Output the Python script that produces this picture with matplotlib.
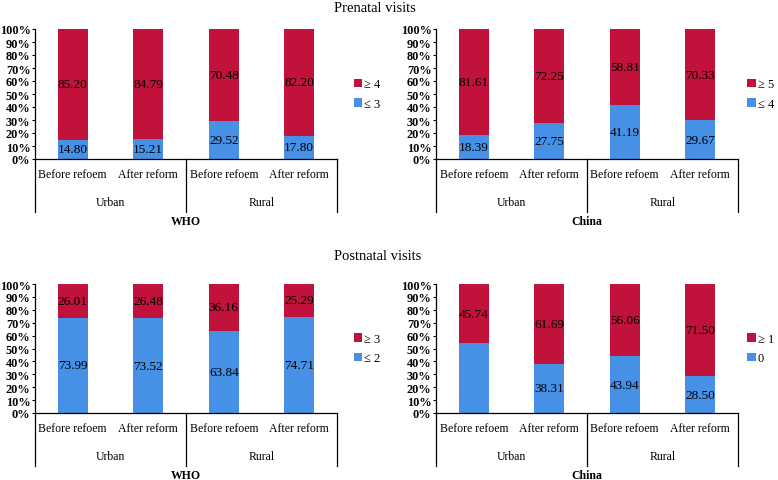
import numpy as np
import matplotlib
matplotlib.use("Agg")
import matplotlib.pyplot as plt

plt.rcParams['font.family'] = ['Liberation Serif', 'DejaVu Serif']

RED = '#C1123C'
BLUE = '#4690E6'

sub_labels = ['Before refoem', 'After reform', 'Before refoem', 'After reform']
groups = ['Urban', 'Rural']

# prenatal visits
pre_who_low = [14.80, 15.21, 29.52, 17.80]
pre_who_high = [85.20, 84.79, 70.48, 82.20]
pre_china_low = [18.39, 27.75, 41.19, 29.67]
pre_china_high = [81.61, 72.25, 58.81, 70.33]

# postnatal visits
post_who_low = [73.99, 73.52, 63.84, 74.71]
post_who_high = [26.01, 26.48, 36.16, 25.29]
post_china_low = [54.26, 38.31, 43.94, 28.50]
post_china_high = [45.74, 61.69, 56.06, 71.50]

W, H = 778, 481
fig = plt.figure(figsize=(W / 100, H / 100), dpi=100)


def panel(x0, y_top, y_bot, low, high, leg_low, leg_high, name, hide_low=(), leg_x=1.055):
    ax = fig.add_axes([x0 / W, 1 - y_bot / H, 302 / W, (y_bot - y_top) / H])
    x = np.arange(len(low))
    b1 = ax.bar(x, low, width=0.4, color=BLUE, label=leg_low)
    b2 = ax.bar(x, high, width=0.4, bottom=low, color=RED, label=leg_high)
    lab_low = ['' if i in hide_low else '%.2f' % v for i, v in enumerate(low)]
    ax.bar_label(b1, labels=lab_low, label_type='center', fontsize=9.5)
    ax.bar_label(b2, labels=['%.2f' % v for v in high], label_type='center', fontsize=9.5)
    ax.set_xlim(-0.5, 3.5)
    ax.set_ylim(0, 100)
    ax.set_yticks(np.arange(0, 101, 10))
    ax.set_yticklabels(['%d%%' % v for v in range(0, 101, 10)], fontsize=8.8, fontweight='bold')
    ax.tick_params(axis='y', length=2.5, width=0.8, pad=0.8)
    ax.set_xticks([])
    for s in ['top', 'right']:
        ax.spines[s].set_visible(False)
    ax.spines['left'].set_linewidth(0.9)
    ax.spines['bottom'].set_linewidth(0.9)

    # category box under the axis
    hpx = y_bot - y_top
    depth = 53 / hpx
    for xf in [0, 0.5, 1]:
        ax.plot([xf, xf], [0, -depth], color='black', lw=0.9,
                transform=ax.transAxes, clip_on=False)
    for i, t in enumerate(sub_labels):
        ax.text((i + 0.5) / 4, -15 / hpx, t, transform=ax.transAxes,
                ha='center', va='center', fontsize=8.5)
    for i, g in enumerate(groups):
        ax.text(0.25 + 0.5 * i, -43 / hpx, g, transform=ax.transAxes,
                ha='center', va='center', fontsize=8.5)
    ax.text(0.5, -62 / hpx, name, transform=ax.transAxes,
            ha='center', va='center', fontsize=8.5, fontweight='bold')

    handles = [b2, b1]
    ax.legend(handles, [leg_high, leg_low], loc='center left',
              bbox_to_anchor=(leg_x, 0.5), frameon=False, fontsize=9,
              handlelength=0.7, handleheight=0.7, handletextpad=0.15,
              labelspacing=0.6, borderpad=0, borderaxespad=0)
    return ax


panel(35, 30, 160, pre_who_low, pre_who_high, '≤ 3', '≥ 4', 'WHO')
panel(436, 30, 160, pre_china_low, pre_china_high, '≤ 4', '≥ 5', 'China', leg_x=1.03)
panel(35, 285, 414, post_who_low, post_who_high, '≤ 2', '≥ 3', 'WHO')
panel(436, 285, 414, post_china_low, post_china_high, '0', '≥ 1', 'China',
      hide_low=(0,), leg_x=1.03)

fig.text(375 / W, 1 - 9 / H, 'Prenatal visits', ha='center', va='center', fontsize=10.5)
fig.text(378 / W, 1 - 257 / H, 'Postnatal visits', ha='center', va='center', fontsize=10.5)

fig.savefig('out.png', dpi=100)
